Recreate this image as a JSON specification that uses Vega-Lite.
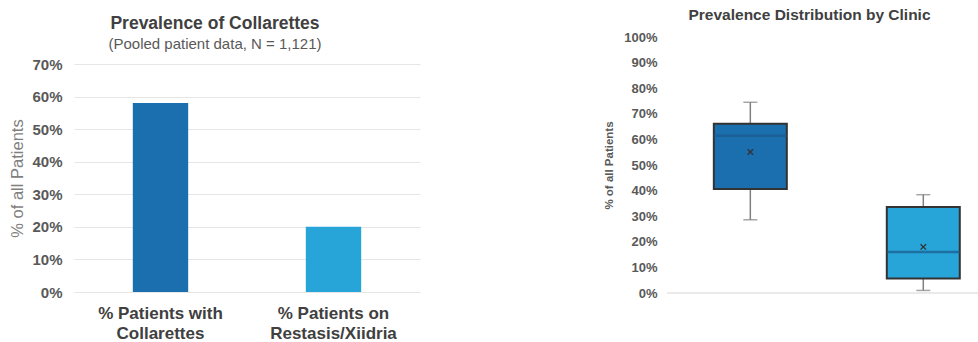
{
  "$schema": "https://vega.github.io/schema/vega-lite/v6.json",
  "padding": {"left": 9, "top": 7, "right": 0, "bottom": 0},
  "background": "white",
  "spacing": 183,
  "config": {
    "font": "Liberation Sans",
    "view": {"stroke": null}
  },
  "hconcat": [
    {
      "width": 346,
      "height": 255,
      "title": {
        "text": "Prevalence of Collarettes",
        "subtitle": "(Pooled patient data, N = 1,121)",
        "fontSize": 17.5,
        "fontWeight": "bold",
        "color": "#404040",
        "subtitleFontSize": 15,
        "subtitleColor": "#595959",
        "subtitlePadding": 5,
        "anchor": "middle",
        "frame": "bounds",
        "offset": -15
      },
      "data": {
        "values": [
          {"category": "% Patients with Collarettes", "pct": 0.58},
          {"category": "% Patients on Restasis/Xiidria", "pct": 0.20}
        ]
      },
      "mark": {"type": "bar"},
      "encoding": {
        "x": {
          "field": "category",
          "type": "nominal",
          "sort": null,
          "scale": {"paddingInner": 0.68, "paddingOuter": 0.34},
          "axis": {
            "title": null,
            "labelAngle": 0,
            "labelFontSize": 17,
            "labelFontWeight": "bold",
            "labelColor": "#404040",
            "labelPadding": 13,
            "labelLineHeight": 20,
            "ticks": false,
            "domain": false,
            "labelExpr": "datum.label == '% Patients with Collarettes' ? ['% Patients with', 'Collarettes'] : ['% Patients on', 'Restasis/Xiidria']"
          }
        },
        "y": {
          "field": "pct",
          "type": "quantitative",
          "scale": {"domain": [0, 0.7], "range": [255, 27]},
          "axis": {
            "title": "% of all Patients",
            "titleFontSize": 16.5,
            "titleFontWeight": "normal",
            "titleColor": "#7f7f7f",
            "titlePadding": 6,
            "titleY": 141,
            "format": ".0%",
            "values": [0, 0.1, 0.2, 0.3, 0.4, 0.5, 0.6, 0.7],
            "labelFontSize": 15,
            "labelFontWeight": "bold",
            "labelColor": "#595959",
            "labelPadding": 12,
            "labelOverlap": false,
            "ticks": false,
            "domain": false,
            "gridColor": "#e6e6e6"
          }
        },
        "color": {
          "field": "category",
          "type": "nominal",
          "sort": null,
          "scale": {"range": ["#1c6fae", "#27a4d8"]},
          "legend": null
        }
      }
    },
    {
      "width": 311,
      "height": 256,
      "title": {
        "text": "Prevalence Distribution by Clinic",
        "fontSize": 15.5,
        "fontWeight": "bold",
        "color": "#404040",
        "anchor": "middle",
        "frame": "group",
        "dx": -13,
        "offset": 8
      },
      "data": {
        "values": [
          {"clinic": "Collarettes", "min": 0.286, "q1": 0.406, "median": 0.614, "q3": 0.661, "max": 0.745, "mean": 0.551},
          {"clinic": "Restasis/Xiidria", "min": 0.01, "q1": 0.057, "median": 0.16, "q3": 0.336, "max": 0.384, "mean": 0.18}
        ]
      },
      "resolve": {"axis": {"y": "independent", "x": "independent"}},
      "layer": [
        {
          "mark": {"type": "rule", "color": "#e3e3e3", "strokeWidth": 1},
          "encoding": {
            "y": {
              "datum": 0,
              "type": "quantitative",
              "scale": {"domain": [0, 1]},
              "axis": {
                "title": "% of all Patients",
                "titleFontSize": 11.5,
                "titleFontWeight": "bold",
                "titleColor": "#595959",
                "titlePadding": 9,
                "format": ".0%",
                "values": [0, 0.1, 0.2, 0.3, 0.4, 0.5, 0.6, 0.7, 0.8, 0.9, 1],
                "labelFontSize": 13,
                "labelFontWeight": "bold",
                "labelColor": "#595959",
                "labelPadding": 10,
                "labelOverlap": false,
                "ticks": false,
                "grid": false,
                "domain": false
              }
            }
          }
        },
        {
          "mark": {"type": "rule", "color": "#808080", "strokeWidth": 1.5},
          "encoding": {
            "x": {
              "field": "clinic",
              "type": "nominal",
              "sort": null,
              "scale": {"paddingInner": 0.578, "paddingOuter": 0.188, "align": 0.72},
              "axis": {
                "title": null,
                "labels": false,
                "ticks": false,
                "domain": false
              }
            },
            "y": {"field": "min", "type": "quantitative", "axis": null},
            "y2": {"field": "max"}
          }
        },
        {
          "mark": {"type": "tick", "color": "#808080", "size": 14, "thickness": 1.5},
          "encoding": {
            "x": {"field": "clinic", "type": "nominal", "sort": null, "axis": null},
            "y": {"field": "min", "type": "quantitative", "axis": null}
          }
        },
        {
          "mark": {"type": "tick", "color": "#808080", "size": 14, "thickness": 1.5},
          "encoding": {
            "x": {"field": "clinic", "type": "nominal", "sort": null, "axis": null},
            "y": {"field": "max", "type": "quantitative", "axis": null}
          }
        },
        {
          "mark": {"type": "bar", "stroke": "#333333", "strokeWidth": 2},
          "encoding": {
            "x": {"field": "clinic", "type": "nominal", "sort": null, "axis": null},
            "y": {"field": "q1", "type": "quantitative", "axis": null},
            "y2": {"field": "q3"},
            "color": {
              "field": "clinic",
              "type": "nominal",
              "sort": null,
              "scale": {"range": ["#1c6fae", "#27a4d8"]},
              "legend": null
            }
          }
        },
        {
          "mark": {"type": "tick", "color": "#1a5a8c", "thickness": 2.5, "size": 73},
          "encoding": {
            "x": {"field": "clinic", "type": "nominal", "sort": null, "axis": null},
            "y": {"field": "median", "type": "quantitative", "axis": null}
          }
        },
        {
          "mark": {"type": "point", "shape": "M-1,-1L1,1M-1,1L1,-1", "filled": false, "stroke": "#333333", "strokeWidth": 1.3, "size": 30, "opacity": 1},
          "encoding": {
            "x": {"field": "clinic", "type": "nominal", "sort": null, "axis": null},
            "y": {"field": "mean", "type": "quantitative", "axis": null}
          }
        }
      ]
    }
  ]
}
